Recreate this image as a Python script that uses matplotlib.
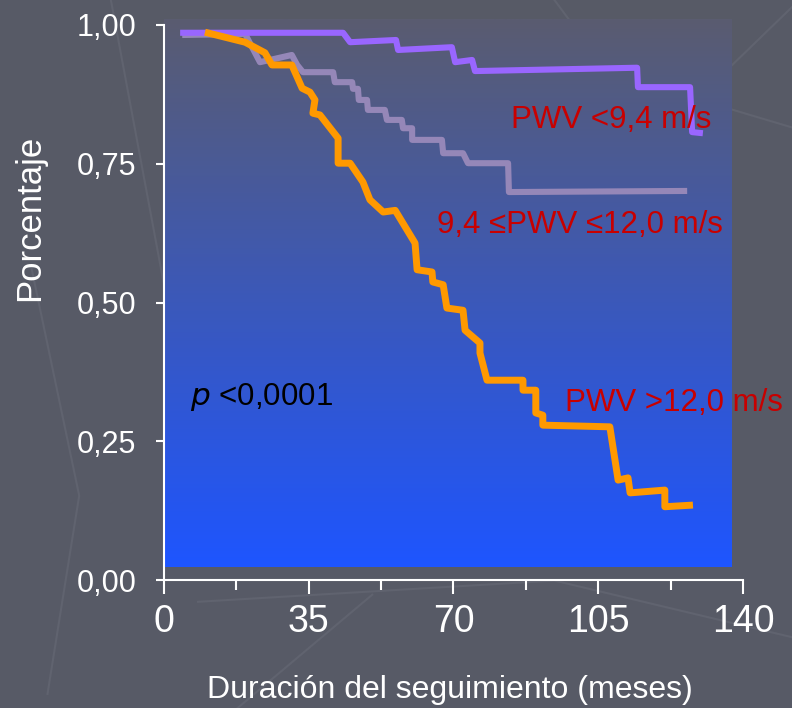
import numpy as np
import matplotlib
matplotlib.use("Agg")
import matplotlib.pyplot as plt

# ---------------- data ----------------
x_low = [3.9, 43.3, 45.0, 56.1, 56.6, 69.6, 70.4, 74.5, 75.2, 114.4, 114.6, 127.2, 127.7, 130.3]
y_low = [0.986, 0.986, 0.969, 0.973, 0.955, 0.960, 0.933, 0.937, 0.917, 0.923, 0.888, 0.888, 0.807, 0.805]

x_mid = [4.4, 19.6, 23.2, 30.9, 32.2, 33.6, 40.9, 41.3, 45.5, 45.7, 46.9, 47.1, 49.1, 49.3, 53.4,
         53.9, 57.5, 57.8, 60.0, 60.0, 67.2, 67.5, 72.3, 73.5, 83.2, 83.4, 126.5]
y_mid = [0.982, 0.984, 0.933, 0.946, 0.928, 0.915, 0.915, 0.897, 0.897, 0.885, 0.885, 0.865, 0.865, 0.847, 0.847,
         0.829, 0.829, 0.814, 0.814, 0.793, 0.793, 0.769, 0.769, 0.751, 0.751, 0.699, 0.701]

x_high = [9.9, 19.6, 24.4, 26.1, 30.9, 33.4, 35.3, 36.5, 36.0, 37.7, 42.1, 42.1, 45.0, 48.1, 49.8,
          53.0, 55.9, 60.7, 61.2, 64.8, 65.0, 67.5, 68.4, 72.3, 72.8, 76.4, 76.4, 78.1, 86.8, 86.8,
          89.9, 89.9, 91.6, 91.6, 107.8, 109.8, 112.2, 112.7, 121.1, 121.1, 127.9]
y_high = [0.987, 0.969, 0.950, 0.928, 0.928, 0.886, 0.879, 0.865, 0.841, 0.838, 0.796, 0.751, 0.751, 0.717, 0.685,
          0.663, 0.666, 0.607, 0.559, 0.555, 0.537, 0.532, 0.490, 0.486, 0.450, 0.427, 0.409, 0.360, 0.360, 0.342,
          0.342, 0.301, 0.297, 0.279, 0.276, 0.180, 0.184, 0.157, 0.162, 0.132, 0.135]

x_ticks = [0, 17.5, 35, 52.5, 70, 87.5, 105, 122.5, 140]
x_ticklabels = ["0", "", "35", "", "70", "", "105", "", "140"]
y_ticks = [0.0, 0.25, 0.5, 0.75, 1.0]
y_ticklabels = ["0,00", "0,25", "0,50", "0,75", "1,00"]

label_low = "PWV <9,4 m/s"
label_mid = "9,4 \u2264PWV \u226412,0 m/s"
label_high = "PWV >12,0 m/s"

# ---------------- style ----------------
plt.rcParams['font.family'] = ['Liberation Sans', 'DejaVu Sans']

BG = "#575a66"
W, H = 792, 708
fig = plt.figure(figsize=(W / 100, H / 100), dpi=100, facecolor=BG)

# faint decorative background strokes
deco = [((0.14, 1.0), (0.22, 0.52), (0.43, 0.45), (0.62, 0.28)),
        ((0.70, 1.0), (0.78, 0.88)),
        ((1.0, 0.99), (0.88, 0.86), (1.0, 0.82)),
        ((0.04, 0.62), (0.10, 0.30), (0.06, 0.02)),
        ((0.25, 0.15), (0.70, 0.18), (1.0, 0.10)),
        ((0.30, 0.0), (0.47, 0.16))]
for pts in deco:
    xs, ys = zip(*pts)
    fig.add_artist(plt.Line2D(xs, ys, transform=fig.transFigure, color="#60636f", lw=1.5, zorder=0))

ax = fig.add_axes([164 / W, 1 - 580 / H, 579 / W, 555 / H])
ax.set_facecolor("none")

# gradient plot area
top = np.array([90, 92, 112]) / 255
bot = np.array([30, 85, 255]) / 255
t = np.linspace(0, 1, 256)[:, None, None]
grad = top * (1 - t) + bot * t
ax.imshow(grad, extent=(0, 137.3, 0.023, 1.009), aspect='auto', zorder=0,
          clip_on=False, interpolation='bilinear')

ax.plot(x_mid, y_mid, color="#9587b8", lw=4.4, solid_joinstyle='round', solid_capstyle='butt',
        zorder=2, clip_on=False)
ax.plot(x_low, y_low, color="#9966ff", lw=4.4, solid_joinstyle='round', solid_capstyle='butt',
        zorder=3, clip_on=False)
ax.plot(x_high, y_high, color="#ff9900", lw=5.0, solid_joinstyle='round', solid_capstyle='butt',
        zorder=4, clip_on=False)

ax.set_xlim(0, 140)
ax.set_ylim(0, 1)

for s in ["top", "right"]:
    ax.spines[s].set_visible(False)
for s in ["left", "bottom"]:
    ax.spines[s].set_color("white")
    ax.spines[s].set_linewidth(1.5)

ax.set_xticks(x_ticks)
ax.set_xticklabels(x_ticklabels, fontsize=27, color="white")
ax.set_yticks(y_ticks)
ax.set_yticklabels(y_ticklabels, fontsize=22, color="white")
ax.tick_params(axis='x', length=10, width=1.5, color="white", pad=7)
ax.tick_params(axis='y', length=6, width=1.5, color="white", pad=14)
for tk, lab in zip(ax.xaxis.get_major_ticks(), x_ticklabels):
    if lab == "":
        tk.tick1line.set_markersize(7)

fig.text(30 / W, 1 - 218 / H, "Porcentaje", rotation=90, ha="center", va="center",
         fontsize=25, color="white")
fig.text(450 / W, 1 - 690 / H, "Duración del seguimiento (meses)", ha="center", va="center",
         fontsize=23, color="white")

red = "#c80000"
ax.text(83.9, 0.829, label_low, color=red, fontsize=22.5, va="center", ha="left", zorder=5)
ax.text(66.0, 0.640, label_mid, color=red, fontsize=22.5, va="center", ha="left", zorder=5)
ax.text(97.0, 0.319, label_high, color=red, fontsize=22.5, va="center", ha="left", zorder=5,
        clip_on=False)
ax.text(6.3, 0.330, r"$\it{p}$ <0,0001", color="black", fontsize=22.5, va="center", ha="left", zorder=5)

fig.savefig("out.png", dpi=100, facecolor=BG)
